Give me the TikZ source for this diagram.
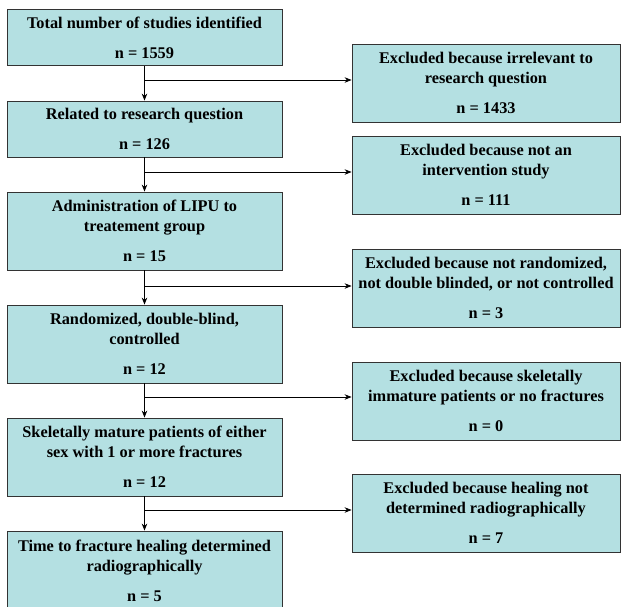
\documentclass[tikz,border=0pt]{standalone}
\usepackage{fontspec}
\setmainfont{Liberation Serif}
\usetikzlibrary{arrows.meta}
\definecolor{boxfill}{RGB}{180,224,226}
\tikzset{
  stage/.style={draw=black!80,fill=boxfill,line width=0.3mm,align=center,
    font=\fontsize{16.3}{20}\selectfont\bfseries,inner sep=0pt,minimum width=275pt},
  excl/.style={stage,minimum width=268pt,minimum height=78pt},
  flow/.style={->,>={Stealth[length=7pt,width=5.5pt]},line width=0.3mm}
}
\begin{document}
\begin{tikzpicture}[x=1pt,y=-1pt]
  \clip (0,0) rectangle (623,606);
  \node[stage,minimum height=56pt] at (144.5,37.5) (s1) {Total number of studies identified\\[10pt]n = 1559};
  \node[stage,minimum height=56pt] at (144.5,129) (s2) {Related to research question\\[10pt]n = 126};
  \node[stage,minimum height=78pt] at (144.5,231) (s3) {Administration of LIPU to\\treatement group\\[10pt]n = 15};
  \node[stage,minimum height=78pt] at (144.5,344) (s4) {Randomized, double-blind,\\controlled\\[10pt]n = 12};
  \node[stage,minimum height=78pt] at (144.5,457) (s5) {Skeletally mature patients of either\\sex with 1 or more fractures\\[10pt]n = 12};
  \node[stage,minimum height=80pt] at (144.5,571) (s6) {Time to fracture healing determined\\radiographically\\[10pt]n = 5};

  \node[excl] at (486,83) (x1) {Excluded because irrelevant to\\research question\\[10pt]n = 1433};
  \node[excl] at (486,175) (x2) {Excluded because not an\\intervention study\\[10pt]n = 111};
  \node[excl] at (486,288) (x3) {Excluded because not randomized,\\not double blinded, or not controlled\\[10pt]n = 3};
  \node[excl] at (486,401) (x4) {Excluded because skeletally\\immature patients or no fractures\\[10pt]n = 0};
  \node[excl] at (486,513) (x5) {Excluded because healing not\\determined radiographically\\[10pt]n = 7};

  \coordinate (j1) at (144.5,80);
  \coordinate (j2) at (144.5,172);
  \coordinate (j3) at (144.5,286);
  \coordinate (j4) at (144.5,397);
  \coordinate (j5) at (144.5,510);

  \draw[flow] (s1) -- (s2);
  \draw[flow] (s2) -- (s3);
  \draw[flow] (s3) -- (s4);
  \draw[flow] (s4) -- (s5);
  \draw[flow] (s5) -- (s6);
  \draw[flow] (j1) -- (j1 -| x1.west);
  \draw[flow] (j2) -- (j2 -| x2.west);
  \draw[flow] (j3) -- (j3 -| x3.west);
  \draw[flow] (j4) -- (j4 -| x4.west);
  \draw[flow] (j5) -- (j5 -| x5.west);
\end{tikzpicture}
\end{document}
